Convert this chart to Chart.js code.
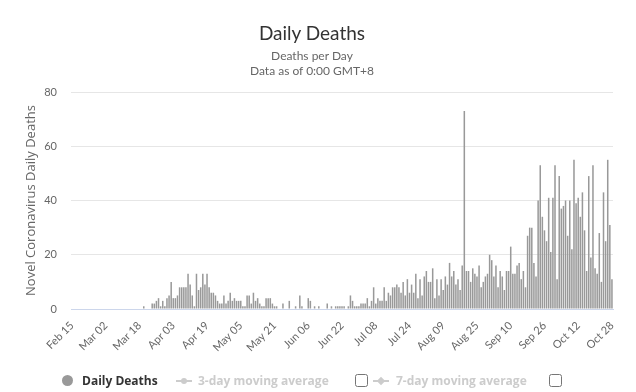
<!DOCTYPE html>
<html lang="en">
<head>
  <meta charset="UTF-8">
  <title>Daily Deaths</title>
  <script src="https://cdn.jsdelivr.net/npm/chart.js"></script>
  <style>
    body {
      margin: 0;
      font-family: Lato, "Noto Sans", sans-serif;
      background: #fff;
    }
    .wrap {
      position: relative;
      width: 636px;
      height: 392px;
    }
    #deathsChart {
      width: 636px !important;
      height: 392px !important;
    }
    .head {
      position: absolute;
      left: -6px;
      width: 636px;
      text-align: center;
    }
    .title { top: 21px; font-size: 19px; line-height: 24px; color: #333; }
    .subtitle { top: 48px; font-size: 12px; line-height: 15px; color: #666; }
    .legend {
      position: absolute;
      left: 0;
      top: 372px;
      width: 636px;
      height: 18px;
      font-family: "Open Sans", sans-serif;
      font-size: 12px;
      font-weight: bold;
    }
    .legend span, .legend i, .legend input {
      position: absolute;
    }
    .dot {
      width: 11px; height: 11px; border-radius: 50%;
      background: #999; top: 3px;
    }
    .seg {
      height: 2px; width: 16px; background: #ccc; top: 8px;
    }
    .mark {
      width: 6px; height: 6px; background: #ccc; top: 6px;
    }
    .off { color: #ccc; }
    .legend input {
      margin: 0; top: 2px; width: 13px; height: 13px;
    }
  </style>
</head>
<body>
  <div class="wrap">
    <canvas id="deathsChart" width="636" height="392"></canvas>
    <div class="head title">Daily Deaths</div>
    <div class="head subtitle">Deaths per Day<br>Data as of 0:00 GMT+8</div>
    <div class="legend">
      <i class="dot" style="left:62px"></i>
      <span style="left:82px; top:0px; color:#333">Daily Deaths</span>
      <i class="seg" style="left:176px"></i>
      <i class="mark" style="left:181px; border-radius:50%"></i>
      <span class="off" style="left:198px; top:0px">3-day moving average</span>
      <input type="checkbox" style="left:355px">
      <i class="seg" style="left:373px"></i>
      <i class="mark" style="left:378px; transform:rotate(45deg)"></i>
      <span class="off" style="left:396px; top:0px">7-day moving average</span>
      <input type="checkbox" style="left:549px">
    </div>
  </div>

  <script>
    // first day of the series, one bar per day up to Oct 28
    const startDay = new Date(2020, 1, 15);
    const dayCount = 257;

    // labels shown on the x axis (every 16 days)
    const tickLabels = ['Feb 15', 'Mar 02', 'Mar 18', 'Apr 03', 'Apr 19', 'May 05', 'May 21',
      'Jun 06', 'Jun 22', 'Jul 08', 'Jul 24', 'Aug 09', 'Aug 25', 'Sep 10', 'Sep 26', 'Oct 12', 'Oct 28'];

    const yTicks = [0, 20, 40, 60, 80];

    // daily deaths, month by month
    const febDeaths = [0, 0, 0, 0, 0, 0, 0, 0, 0, 0, 0, 0, 0, 0, 0];
    const marDeaths = [0, 0, 0, 0, 0, 0, 0, 0, 0, 0, 0, 0, 0, 0, 0, 0, 0, 0, 0, 1,
      0, 0, 0, 2, 2, 3, 4, 1, 3, 1, 4];
    const aprDeaths = [5, 10, 4, 4, 5, 8, 8, 8, 8, 13, 9, 5, 1, 13, 7, 8, 13, 9, 13, 8,
      6, 6, 5, 3, 2, 2, 5, 2, 3, 6];
    const mayDeaths = [3, 4, 3, 3, 3, 1, 1, 5, 5, 2, 6, 3, 4, 2, 1, 1, 4, 4, 4, 2,
      1, 1, 0, 0, 2, 0, 0, 3, 0, 0, 1];
    const junDeaths = [0, 5, 1, 0, 0, 4, 3, 0, 1, 0, 1, 0, 0, 0, 2, 0, 1, 0, 1, 1,
      1, 1, 1, 0, 1, 5, 3, 1, 1, 1];
    const julDeaths = [2, 2, 2, 4, 1, 3, 8, 2, 4, 3, 3, 8, 3, 6, 5, 8, 8, 9, 8, 6,
      10, 5, 11, 6, 9, 6, 13, 4, 11, 5, 12];
    const augDeaths = [14, 10, 10, 15, 4, 11, 5, 11, 7, 12, 9, 17, 12, 14, 9, 11, 7, 16, 73, 14,
      14, 10, 15, 13, 12, 16, 8, 10, 12, 13, 20];
    const sepDeaths = [18, 12, 16, 8, 14, 12, 7, 14, 14, 23, 13, 13, 16, 17, 11, 14, 8, 27, 30, 30,
      17, 12, 40, 53, 34, 29, 25, 41, 21, 41];
    const octDeaths = [53, 11, 49, 37, 38, 40, 27, 40, 22, 55, 39, 41, 34, 43, 29, 14, 49, 19, 53, 15,
      13, 28, 10, 43, 25, 55, 31, 11];

    const deaths = [].concat(febDeaths, marDeaths, aprDeaths, mayDeaths, junDeaths,
      julDeaths, augDeaths, sepDeaths, octDeaths);

    const monthNames = ['Jan', 'Feb', 'Mar', 'Apr', 'May', 'Jun', 'Jul', 'Aug', 'Sep', 'Oct', 'Nov', 'Dec'];
    const categories = [];
    for (let i = 0; i < dayCount; i++) {
      const d = new Date(startDay.getFullYear(), startDay.getMonth(), startDay.getDate() + i);
      categories.push(monthNames[d.getMonth()] + ' ' + String(d.getDate()).padStart(2, '0'));
    }

    Chart.defaults.font.family = 'Lato, "Noto Sans", sans-serif';

    const ctx = document.getElementById('deathsChart').getContext('2d');
    const deathsChart = new Chart(ctx, {
      type: 'bar',
      data: {
        labels: categories,
        datasets: [{
          label: 'Daily Deaths',
          data: deaths,
          backgroundColor: '#999999',
          barPercentage: 0.72,
          categoryPercentage: 1.0
        }]
      },
      options: {
        responsive: false,
        animation: false,
        layout: {
          padding: { left: 23, right: 23, bottom: 38, top: 92 }
        },
        scales: {
          x: {
            grid: { display: false },
            border: { color: '#ccd6eb' },
            ticks: {
              autoSkip: false,
              maxRotation: 45,
              minRotation: 45,
              color: '#666',
              padding: 2,
              font: { size: 11 },
              callback: function (value, index) {
                const lab = categories[index];
                return tickLabels.includes(lab) ? lab : '';
              }
            },
            afterFit: function (scale) { scale.height = 45; }
          },
          y: {
            min: 0,
            max: 80,
            grid: { color: '#e6e6e6', drawTicks: false },
            border: { display: false },
            afterBuildTicks: function (scale) {
              scale.ticks = yTicks.map(v => ({ value: v }));
            },
            ticks: {
              color: '#666',
              padding: 14,
              font: { size: 11 }
            },
            title: {
              display: true,
              text: 'Novel Coronavirus Daily Deaths',
              color: '#666',
              font: { size: 13, family: '"Open Sans", sans-serif' },
              padding: 0
            },
            afterFit: function (scale) { scale.width = 48; }
          }
        },
        plugins: {
          legend: { display: false },
          tooltip: { enabled: false }
        }
      }
    });
  </script>
</body>
</html>
